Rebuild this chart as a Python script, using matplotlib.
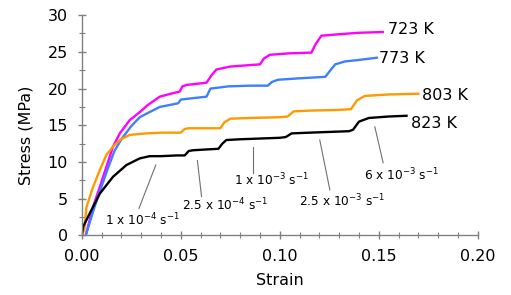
import matplotlib.pyplot as plt
from matplotlib.ticker import MultipleLocator

# 723 K
strain_723 = [0.002, 0.0057, 0.0091, 0.0125, 0.0158, 0.0192, 0.0242, 0.0293, 0.0335, 0.0394, 0.045,
              0.0495, 0.0508, 0.053, 0.063, 0.0655, 0.068, 0.075, 0.085, 0.090, 0.092, 0.095, 0.105,
              0.116, 0.118, 0.121, 0.130, 0.140, 0.152]
stress_723 = [0, 3.9, 6.6, 9.4, 12.1, 13.9, 15.7, 16.8, 17.8, 18.9, 19.3,
              19.6, 20.3, 20.5, 20.8, 21.8, 22.6, 23.0, 23.2, 23.3, 24.1, 24.6, 24.8,
              24.9, 26.0, 27.2, 27.4, 27.6, 27.7]

# 773 K
strain_773 = [0.002, 0.006, 0.0095, 0.013, 0.0165, 0.020, 0.025, 0.0293, 0.0335, 0.0394, 0.0487,
              0.050, 0.053, 0.063, 0.065, 0.068, 0.074, 0.085, 0.094, 0.096, 0.099, 0.110, 0.123,
              0.125, 0.128, 0.133, 0.140, 0.149]
stress_773 = [0, 3.5, 6.3, 9.0, 11.5, 13.1, 14.9, 16.1, 16.7, 17.5, 18.0,
              18.5, 18.6, 18.9, 20.0, 20.1, 20.3, 20.4, 20.4, 20.9, 21.2, 21.4, 21.6,
              22.3, 23.3, 23.7, 23.9, 24.2]

# 803 K
strain_803 = [0, 0.0013, 0.0024, 0.0057, 0.0091, 0.0125, 0.0158, 0.0192, 0.0242, 0.0327, 0.040,
              0.050, 0.052, 0.054, 0.065, 0.070, 0.072, 0.075, 0.085, 0.100, 0.104, 0.107, 0.115,
              0.130, 0.136, 0.139, 0.143, 0.155, 0.170]
stress_803 = [0, 0.8, 3.9, 6.6, 8.9, 11.0, 12.1, 13.0, 13.7, 13.9, 14.0,
              14.0, 14.5, 14.6, 14.6, 14.6, 15.4, 15.9, 16.0, 16.1, 16.2, 16.9, 17.0,
              17.1, 17.2, 18.4, 19.0, 19.2, 19.3]

# 823 K
strain_823 = [0, 0.0007, 0.004, 0.0091, 0.0158, 0.0226, 0.0293, 0.0343, 0.040, 0.048, 0.052,
              0.054, 0.056, 0.062, 0.069, 0.071, 0.073, 0.080, 0.090, 0.100, 0.103, 0.106,
              0.115, 0.125, 0.135, 0.137, 0.140, 0.145, 0.155, 0.164]
stress_823 = [0, 1.2, 3.0, 5.7, 8.0, 9.6, 10.5, 10.8, 10.8, 10.9, 10.9,
              11.5, 11.6, 11.7, 11.8, 12.5, 13.0, 13.1, 13.2, 13.3, 13.4, 13.9,
              14.0, 14.1, 14.2, 14.4, 15.5, 16.0, 16.2, 16.3]

temp_labels = ['723 K', '773 K', '803 K', '823 K']
rate_labels = [r'1 x 10$^{-4}$ s$^{-1}$', r'2.5 x 10$^{-4}$ s$^{-1}$', r'1 x 10$^{-3}$ s$^{-1}$',
               r'2.5 x 10$^{-3}$ s$^{-1}$', r'6 x 10$^{-3}$ s$^{-1}$']

fig = plt.figure(figsize=(5.11, 2.95), dpi=100)
ax = fig.add_axes([0.160, 0.2017, 0.775, 0.747])

curves = [(strain_723, stress_723, '#ff00ff'),
          (strain_773, stress_773, '#3f7fff'),
          (strain_803, stress_803, '#ff9900'),
          (strain_823, stress_823, 'black')]
for x, y, c in curves:
    ax.plot(x, y, color=c, lw=1.7, solid_joinstyle='round')

# temperature labels next to line ends
temp_pos = [(0.1545, 28.1), (0.150, 24.1), (0.172, 19.0), (0.1662, 15.3)]
for lab, (tx, ty) in zip(temp_labels, temp_pos):
    ax.text(tx, ty, lab, fontsize=11.5, ha='left', va='center')

# strain-rate annotations
rate_text = [(0.0308, 2.1), (0.0727, 4.15), (0.0958, 7.55), (0.1316, 4.7), (0.1615, 8.2)]
rate_tip = [(0.0374, 9.6), (0.0584, 10.2), (0.0865, 12.0), (0.1202, 13.0), (0.148, 14.8)]
rate_tail = [(0.0289, 3.7), (0.0605, 5.3), (0.0865, 8.5), (0.1253, 6.2), (0.1522, 9.9)]
for lab, tp, tip, tail in zip(rate_labels, rate_text, rate_tip, rate_tail):
    ax.text(tp[0], tp[1], lab, fontsize=8.7, ha='center', va='center')
    ax.plot([tail[0], tip[0]], [tail[1], tip[1]], color='#707070', lw=0.8)

ax.set_xlim(0, 0.20)
ax.set_ylim(0, 30)
ax.xaxis.set_major_locator(MultipleLocator(0.05))
ax.xaxis.set_minor_locator(MultipleLocator(0.01))
ax.yaxis.set_major_locator(MultipleLocator(5))
ax.yaxis.set_minor_locator(MultipleLocator(2.5))
ax.xaxis.set_major_formatter(plt.FormatStrFormatter('%.2f'))

for s in ['top', 'right']:
    ax.spines[s].set_visible(False)
for s in ['left', 'bottom']:
    ax.spines[s].set_color('#808080')
    ax.spines[s].set_linewidth(1.0)

ax.tick_params(which='major', direction='inout', length=6, width=1, color='#808080', labelsize=11.5)
ax.tick_params(which='minor', direction='inout', length=4, width=0.8, color='#808080')
ax.tick_params(axis='x', pad=7)
ax.tick_params(axis='y', pad=7)

ax.set_xlabel('Strain', fontsize=11.5, labelpad=6)
ax.set_ylabel('Stress (MPa)', fontsize=11.5)
ax.yaxis.set_label_coords(-0.122, 0.456)

fig.savefig('out.png', dpi=100)
